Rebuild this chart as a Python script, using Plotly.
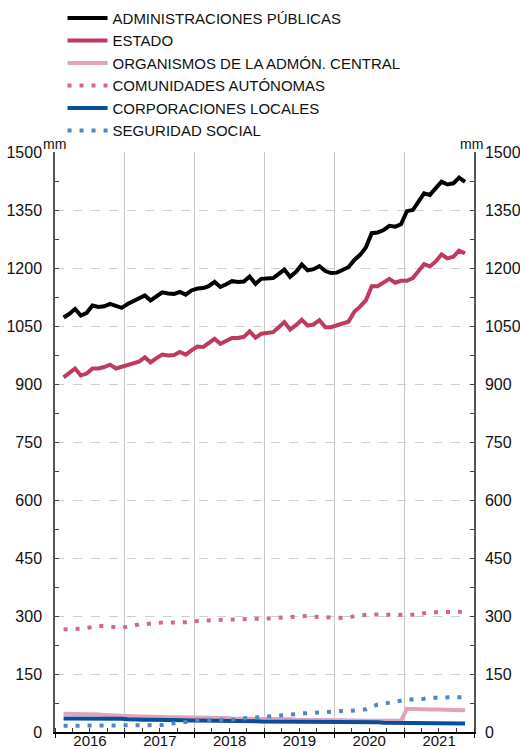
import plotly.graph_objects as go
import pandas as pd

# Monthly dates, Jan 2016 - Oct 2021 (mid-month)
dates = pd.date_range("2016-01-15", periods=70, freq="MS") + pd.Timedelta(days=14)

administraciones = [
    1072, 1081, 1094, 1077, 1084, 1103, 1099, 1101, 1107, 1103, 1097, 1107,
    1114, 1120, 1129, 1116, 1127, 1137, 1134, 1133, 1138, 1131, 1142, 1147,
    1148, 1153, 1164, 1151, 1158, 1166, 1164, 1165, 1178, 1159, 1172, 1172,
    1174, 1184, 1196, 1177, 1190, 1209, 1194, 1197, 1205, 1192, 1187, 1188,
    1195, 1202, 1221, 1234, 1254, 1290, 1292, 1298, 1309, 1307, 1313, 1347,
    1350, 1369, 1393, 1389, 1406, 1423, 1416, 1419, 1434, 1423,
]
estado = [
    917, 928, 940, 922, 927, 940, 940, 944, 950, 940, 944, 950,
    954, 958, 969, 956, 967, 976, 974, 975, 983, 976, 987, 997,
    996, 1006, 1017, 1004, 1011, 1019, 1019, 1022, 1036, 1020, 1030, 1033,
    1034, 1046, 1060, 1041, 1052, 1066, 1051, 1054, 1065, 1047, 1047, 1052,
    1057, 1061, 1087, 1100, 1117, 1153, 1153, 1162, 1172, 1162, 1167, 1167,
    1174, 1191, 1210, 1204, 1217, 1235, 1225, 1229, 1245, 1238,
]
organismos = [
    47, 47, 46, 46, 47, 46, 45, 44, 43, 42, 41, 41,
    40, 40, 40, 39, 39, 39, 38, 38, 38, 38, 37, 37,
    37, 37, 36, 36, 36, 35, 35, 35, 35, 34, 34, 34,
    33, 33, 33, 33, 32, 32, 32, 32, 31, 31, 31, 30,
    30, 30, 30, 30, 29, 29, 29, 29, 29, 29, 29, 60,
    59, 58, 58, 58, 58, 58, 57, 57, 56, 56,
]
comunidades = [
    265, 265, 265, 267, 269, 272, 274, 274, 273, 272, 269, 273,
    277, 278, 279, 281, 283, 283, 283, 283, 283, 284, 286, 287,
    289, 289, 289, 290, 291, 291, 292, 292, 293, 293, 293, 294,
    295, 295, 296, 297, 298, 300, 300, 298, 297, 297, 296, 295,
    295, 297, 298, 301, 303, 304, 304, 303, 303, 303, 303, 303,
    304, 303, 307, 310, 310, 310, 311, 312, 311, 309,
]
corporaciones = [
    35, 35, 35, 36, 35, 35, 35, 34, 34, 34, 34, 33,
    32, 32, 32, 32, 31, 31, 31, 31, 30, 30, 30, 30,
    30, 30, 30, 29, 29, 29, 29, 29, 28, 28, 27, 27,
    27, 27, 27, 27, 27, 27, 26, 26, 26, 25, 25, 25,
    25, 25, 25, 25, 25, 25, 25, 24, 24, 24, 24, 23,
    23, 23, 23, 23, 23, 23, 23, 23, 23, 22,
]
seguridad = [
    16, 16, 16, 16, 16, 16, 16, 16, 16, 16, 16, 16,
    16, 16, 16, 16, 16, 18, 21, 23, 24, 26, 28, 29,
    30, 30, 30, 30, 31, 32, 34, 35, 36, 38, 40, 41,
    41, 42, 43, 45, 46, 48, 49, 51, 52, 53, 53, 54,
    54, 54, 55, 57, 59, 65, 71, 73, 76, 79, 82, 84,
    84, 84, 86, 88, 89, 90, 90, 90, 90, 90,
]

series = [
    ("ADMINISTRACIONES PÚBLICAS", administraciones, "#000000", "solid"),
    ("ESTADO", estado, "#BE3B5E", "solid"),
    ("ORGANISMOS DE LA ADMÓN. CENTRAL", organismos, "#E3A3B6", "solid"),
    ("COMUNIDADES AUTÓNOMAS", comunidades, "#D0698B", "4px,8px"),
    ("CORPORACIONES LOCALES", corporaciones, "#0B4C9B", "solid"),
    ("SEGURIDAD SOCIAL", seguridad, "#4F86C6", "4px,8px"),
]

y_ticks = [0, 150, 300, 450, 600, 750, 900, 1050, 1200, 1350, 1500]

fig = go.Figure()
for name, vals, color, dash in series:
    fig.add_trace(go.Scatter(
        x=dates, y=vals, name=name, mode="lines",
        line=dict(color=color, width=4, dash=dash),
    ))
# invisible trace to activate the right-hand axis
fig.add_trace(go.Scatter(x=dates, y=administraciones, yaxis="y2", mode="lines",
                         line=dict(color="rgba(0,0,0,0)", width=0),
                         showlegend=False, hoverinfo="skip"))

font = "Liberation Sans, Arial, sans-serif"
yax_common = dict(
    range=[0, 1500], tickvals=y_ticks, ticks="inside", ticklen=4,
    tickcolor="#444", showline=True, linecolor="#555", linewidth=1.5,
    tickfont=dict(size=16, color="#111"), zeroline=False,
    minor=dict(dtick=75, tick0=0, ticks="inside", ticklen=4, tickcolor="#444", showgrid=False),
)

fig.update_layout(
    width=520, height=749,
    margin=dict(l=55, r=46, t=152, b=17, autoexpand=False),
    paper_bgcolor="white", plot_bgcolor="white",
    font=dict(family=font, size=16, color="#111"),
    showlegend=True,
    legend=dict(x=0.018, y=1.259, xanchor="left", yanchor="top",
                font=dict(size=15, color="#111"), bgcolor="rgba(0,0,0,0)",
                itemwidth=40, tracegroupgap=0),
    xaxis=dict(
        type="date", range=["2016-01-01", "2022-01-01"],
        tick0="2016-01-01", dtick="M12", tickformat="%Y", ticklabelmode="period",
        showgrid=True, gridcolor="#c8c8c8", gridwidth=1,
        showline=True, linecolor="#000", linewidth=2,
        ticks="outside", ticklen=4, tickcolor="#000",
        minor=dict(dtick="M3", ticks="inside", ticklen=4, tickcolor="#333", showgrid=False),
        tickfont=dict(size=15, color="#111"), automargin=False,
        ticklabelstandoff=-10,
    ),
    yaxis=dict(**yax_common, side="left", showgrid=True, gridcolor="#cfcfcf",
               griddash="dash", gridwidth=1, automargin=False, ticklabelstandoff=8),
    yaxis2=dict(**yax_common, side="right", overlaying="y", showgrid=False,
                automargin=False, ticklabelstandoff=6),
    annotations=[
        dict(text="mm", x=0, y=1, xref="paper", yref="paper", xanchor="center",
             yanchor="bottom", showarrow=False, font=dict(size=14, color="#111"),
             yshift=-2, xshift=-1),
        dict(text="mm", x=1, y=1, xref="paper", yref="paper", xanchor="center",
             yanchor="bottom", showarrow=False, font=dict(size=14, color="#111"),
             yshift=-2, xshift=-3),
    ],
)

fig.write_html("out.html", config={"displayModeBar": False},
               post_script="document.body.style.margin='0';")
